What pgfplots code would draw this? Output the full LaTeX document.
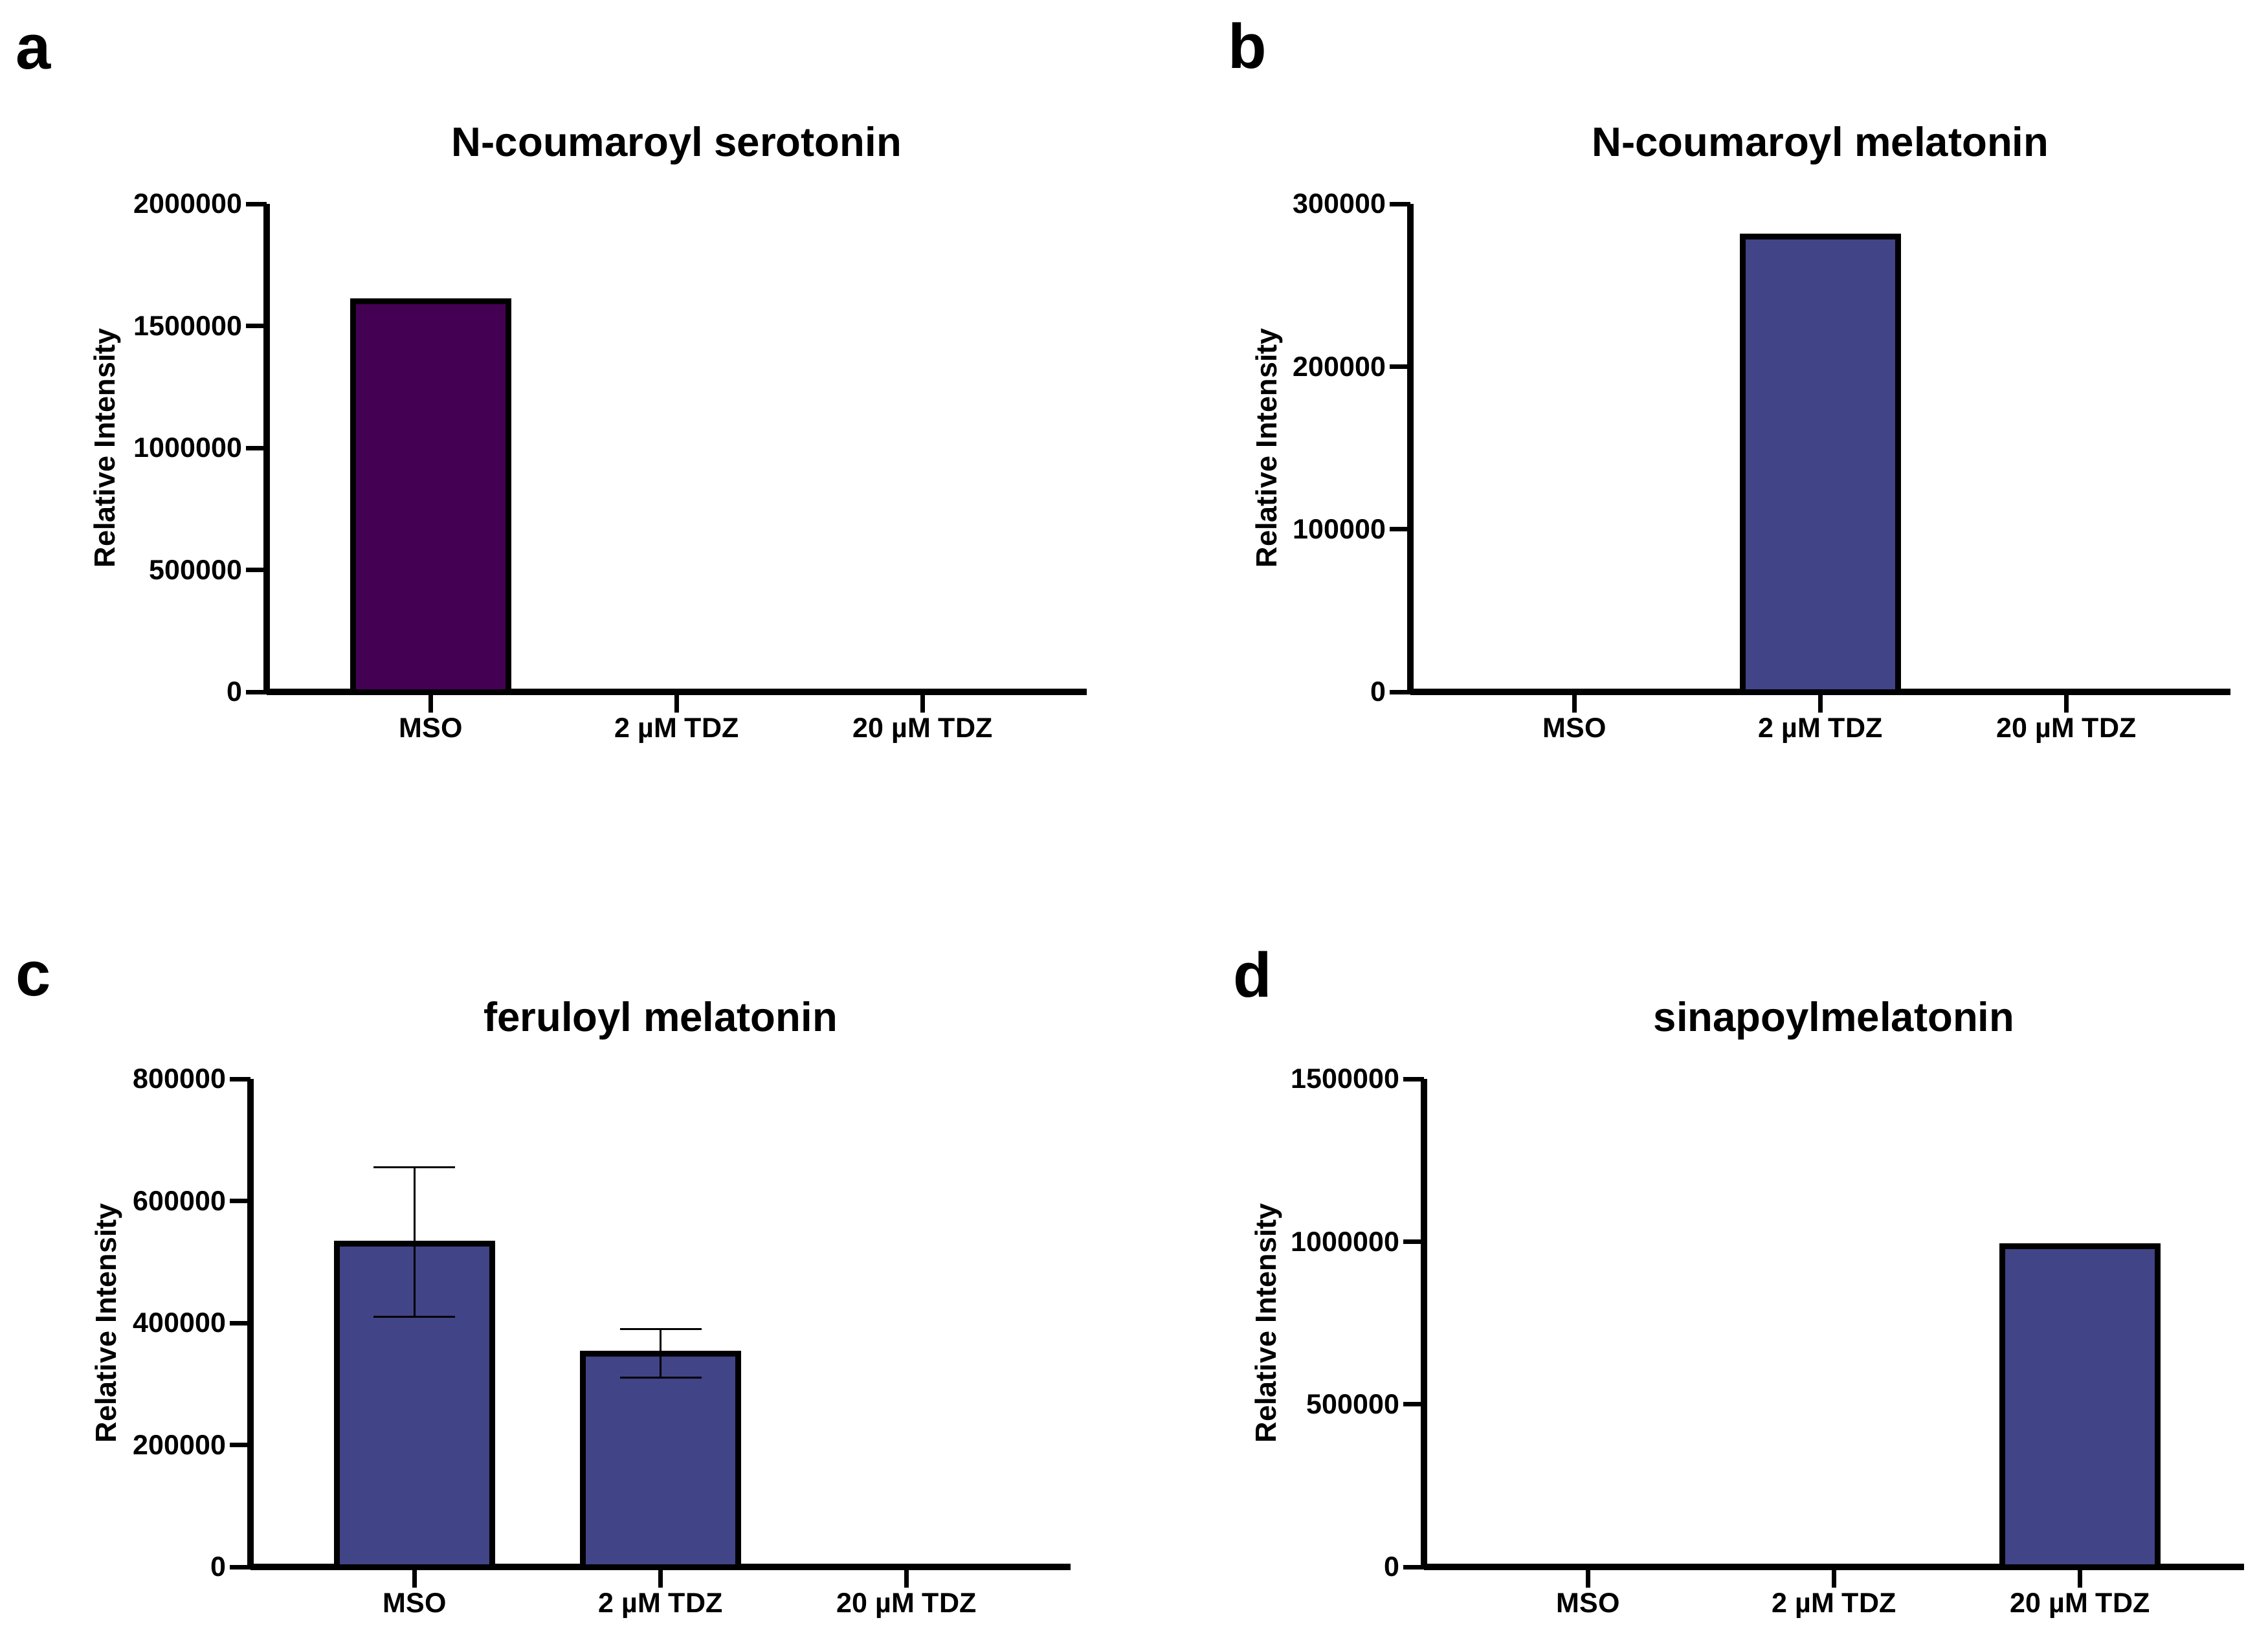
\documentclass[border=0pt]{standalone}
\usepackage{fontspec}
\setmainfont{Liberation Sans}
\usepackage{pgfplots}
\usepackage{pgfplotstable}
\pgfplotsset{compat=1.18}

\definecolor{vpurple}{HTML}{440154}
\definecolor{vblue}{HTML}{414487}

% category x, value y, error plus ep, error minus em
\pgfplotstableread{
x y
0 1600000
1 0
2 0
}\serotonin
\pgfplotstableread{
x y
0 0
1 280000
2 0
}\coumelat
\pgfplotstableread{
x y ep em
0 530000 125000 120000
1 350000 40000 40000
2 0 0 0
}\ferulmel
\pgfplotstableread{
x y
0 0
1 0
2 985000
}\sinapmel

\pgfplotsset{
  panel/.style={
    anchor=south west,
    width=253.4pt, height=150.8pt, scale only axis,
    axis lines=left,
    axis line style={line width=2pt, -},
    tick align=outside,
    major tick length=6.4pt,
    major tick style={line width=1.4pt, black},
    minor tick num=0,
    xmin=-0.667, xmax=2.667, ymin=0,
    xtick={0,1,2},
    xticklabels={MSO, 2 µM TDZ, 20 µM TDZ},
    x tick label style={font=\bfseries\fontsize{8.6}{10}\selectfont,
      anchor=base, inner sep=0pt, yshift=-7.6pt},
    y tick label style={font=\bfseries\fontsize{8.6}{10}\selectfont,
      anchor=east, inner sep=0pt, xshift=-1pt},
    scaled y ticks=false,
    yticklabel style={/pgf/number format/fixed,
      /pgf/number format/1000 sep={},
      /pgf/number format/assume math mode=true},
    ylabel={Relative Intensity},
    ylabel style={font=\bfseries\fontsize{9}{11}\selectfont, anchor=base},
    title style={at={(0.5,1)}, anchor=base, yshift=8.8pt,
      font=\bfseries\fontsize{12.7}{15}\selectfont},
    ybar, bar width=0.631,
  },
  barstyle/.style={draw=black, line width=1.8pt, fill=#1},
}

\begin{document}
\begin{tikzpicture}
\useasboundingbox (0,0) rectangle (700.8pt,507.2pt);

% panel a
\begin{axis}[panel, at={(82.4pt,293.4pt)},
  ymax=2000000, ytick={0,500000,1000000,1500000,2000000},
  title={N-coumaroyl serotonin},
  ylabel style={at={(axis description cs:-0.185,0.5)}}]
\addplot[barstyle=vpurple] table[x=x,y=y] {\serotonin};
\end{axis}

% panel b
\begin{axis}[panel, at={(435.8pt,293.4pt)},
  ymax=300000, ytick={0,100000,200000,300000},
  title={N-coumaroyl melatonin},
  ylabel style={at={(axis description cs:-0.163,0.5)}}]
\addplot[barstyle=vblue] table[x=x,y=y] {\coumelat};
\end{axis}

% panel c
\begin{axis}[panel, at={(77.4pt,23pt)},
  ymax=800000, ytick={0,200000,400000,600000,800000},
  title={feruloyl melatonin},
  ylabel style={at={(axis description cs:-0.164,0.5)}}]
\addplot[barstyle=vblue,
  error bars/.cd, y dir=both, y explicit,
  error bar style={line width=0.6pt, black},
  error mark options={rotate=90, line width=0.6pt, black, mark size=12.6pt}]
  table[x=x,y=y,y error plus=ep,y error minus=em] {\ferulmel};
\end{axis}

% panel d
\begin{axis}[panel, at={(440pt,23pt)},
  ymax=1500000, ytick={0,500000,1000000,1500000},
  title={sinapoylmelatonin},
  ylabel style={at={(axis description cs:-0.180,0.5)}}]
\addplot[barstyle=vblue] table[x=x,y=y] {\sinapmel};
\end{axis}

% panel letters
\node[anchor=base west, inner sep=0pt, font=\bfseries\fontsize{19.5}{22}\selectfont] at (4.8pt,485.8pt) {a};
\node[anchor=base west, inner sep=0pt, font=\bfseries\fontsize{19.5}{22}\selectfont] at (379.2pt,486pt) {b};
\node[anchor=base west, inner sep=0pt, font=\bfseries\fontsize{19.5}{22}\selectfont] at (4.8pt,199.6pt) {c};
\node[anchor=base west, inner sep=0pt, font=\bfseries\fontsize{19.5}{22}\selectfont] at (380.8pt,199.2pt) {d};
\end{tikzpicture}
\end{document}
